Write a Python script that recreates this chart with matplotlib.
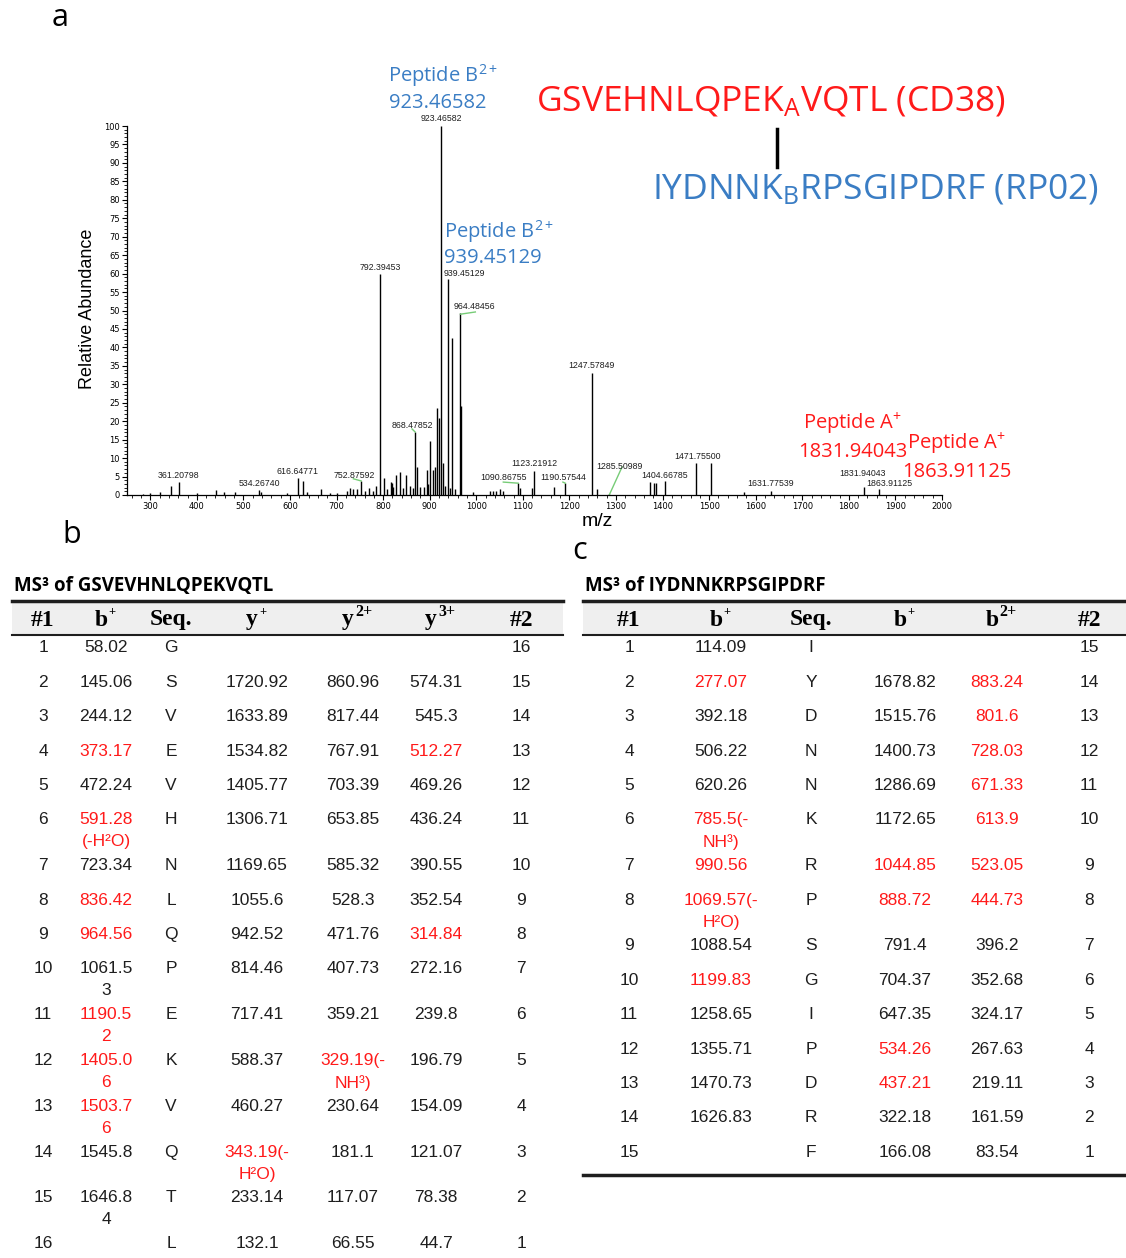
import matplotlib
matplotlib.use("Agg")
import matplotlib.pyplot as plt
from matplotlib.ticker import MultipleLocator
from matplotlib.patches import Rectangle

plt.rcParams['mathtext.fontset'] = 'custom'
plt.rcParams['mathtext.rm'] = 'Open Sans'
plt.rcParams['mathtext.it'] = 'Open Sans:italic'
plt.rcParams['mathtext.bf'] = 'Open Sans:bold'

###############################################################################
# spectrum data (m/z, relative abundance)

peak_mz = [285, 300, 321, 343.6, 361.2, 400, 441.7, 459, 482.6, 534.3, 538.6, 593,
           616.6, 626.9, 636, 666, 686, 700, 722, 729, 736, 743.7, 752.9, 760, 768.6,
           778, 785, 792.4, 800.8, 809, 816.6, 819.5, 822, 828, 836.7, 843, 850, 858,
           864, 868.5, 872, 879.6, 886.7, 893.9, 897, 901, 906.7, 911.7, 916, 920.4,
           923.5, 928, 933, 939.5, 944, 948, 955, 964.5, 967, 992, 1030, 1036, 1043,
           1050, 1058, 1089.3, 1093, 1119, 1124, 1166.5, 1191, 1247.6, 1258.8, 1285.5,
           1373, 1382, 1385, 1405, 1471.8, 1504, 1575, 1631.8, 1831.9, 1865]
peak_int = [0.3, 0.5, 0.8, 2.4, 3.5, 0.5, 1.4, 0.8, 0.8, 1.4, 0.8, 0.5,
            4.7, 3.8, 0.8, 1.7, 0.6, 0.5, 1.0, 1.8, 1.5, 1.6, 3.7, 1.0, 1.8,
            1.2, 2.4, 60, 4.6, 1.5, 3.5, 3.2, 2.2, 5.4, 6.2, 2.0, 5.4, 2.4,
            2.0, 17.2, 7.6, 2.2, 2.2, 6.8, 3.0, 14.5, 6.8, 7.6, 23.7, 21,
            100, 8.7, 2.5, 58.5, 2.0, 42.6, 1.5, 49.3, 24, 0.8, 1.0, 1.0, 1.2,
            1.5, 1.0, 3.2, 2.0, 2.0, 6.6, 2.3, 3.2, 33.1, 1.6, 0.4,
            3.5, 3.3, 3.3, 3.8, 8.8, 8.6, 0.8, 1.2, 2.1, 1.7]

# peak labels: text, x, y (text bottom)
label_text = ["361.20798", "534.26740", "616.64771", "752.87592", "792.39453",
              "868.47852", "923.46582", "939.45129", "964.48456", "1090.86755",
              "1123.21912", "1190.57544", "1247.57849", "1285.50989", "1404.66785",
              "1471.75500", "1631.77539", "1831.94043", "1863.91125"]
label_x = [360, 534, 616, 738, 794, 862, 925, 974, 996, 1058,
           1124, 1187, 1247, 1308, 1405, 1474, 1631, 1830, 1886]
label_y = [4.0, 1.8, 5.2, 4.2, 60.4, 17.7, 100.8, 58.8, 49.8, 3.6,
           7.3, 3.6, 33.9, 6.6, 4.1, 9.2, 1.9, 4.6, 1.8]

# green leader lines: (x0, y0) -> (x1, y1)
leader_x0 = [736, 862, 966, 1058, 1186, 1313]
leader_y0 = [4.4, 17.9, 49.0, 3.5, 3.5, 7.6]
leader_x1 = [752.9, 868.5, 998, 1090, 1191, 1285.5]
leader_y1 = [3.8, 17.1, 49.6, 3.2, 3.2, 0.0]

###############################################################################
# fragment tables

L_title = "MS³ of GSVEVHNLQPEKVQTL"
L_head = ["#1", "b", "Seq.", "y", "y", "y", "#2"]
L_sup = ["", "+", "", "+", "2+", "3+", ""]
L_n1 = [str(i) for i in range(1, 17)]
L_b = ["58.02", "145.06", "244.12", "373.17", "472.24", "591.28\n(-H²O)", "723.34",
       "836.42", "964.56", "1061.5\n3", "1190.5\n2", "1405.0\n6", "1503.7\n6",
       "1545.8", "1646.8\n4", ""]
L_seq = list("GSVEVHNLQPEKVQTL")
L_y1 = ["", "1720.92", "1633.89", "1534.82", "1405.77", "1306.71", "1169.65", "1055.6",
        "942.52", "814.46", "717.41", "588.37", "460.27", "343.19(-\nH²O)", "233.14",
        "132.1"]
L_y2 = ["", "860.96", "817.44", "767.91", "703.39", "653.85", "585.32", "528.3",
        "471.76", "407.73", "359.21", "329.19(-\nNH³)", "230.64", "181.1", "117.07",
        "66.55"]
L_y3 = ["", "574.31", "545.3", "512.27", "469.26", "436.24", "390.55", "352.54",
        "314.84", "272.16", "239.8", "196.79", "154.09", "121.07", "78.38", "44.7"]
L_n2 = [str(i) for i in range(16, 0, -1)]
# red (matched) cells, 1-based row numbers per column
L_red = [[], [4, 6, 8, 9, 11, 12, 13], [], [14], [12], [4, 9], []]

R_title = "MS³ of IYDNNKRPSGIPDRF"
R_head = ["#1", "b", "Seq.", "b", "b", "#2"]
R_sup = ["", "+", "", "+", "2+", ""]
R_n1 = [str(i) for i in range(1, 16)]
R_b1 = ["114.09", "277.07", "392.18", "506.22", "620.26", "785.5(-\nNH³)", "990.56",
        "1069.57(-\nH²O)", "1088.54", "1199.83", "1258.65", "1355.71", "1470.73",
        "1626.83", ""]
R_seq = list("IYDNNKRPSGIPDRF")
R_b2 = ["", "1678.82", "1515.76", "1400.73", "1286.69", "1172.65", "1044.85", "888.72",
        "791.4", "704.37", "647.35", "534.26", "437.21", "322.18", "166.08"]
R_b3 = ["", "883.24", "801.6", "728.03", "671.33", "613.9", "523.05", "444.73", "396.2",
        "352.68", "324.17", "267.63", "219.11", "161.59", "83.54"]
R_n2 = [str(i) for i in range(15, 0, -1)]
R_red = [[], [2, 6, 7, 8, 10], [], [7, 8, 12, 13], [2, 3, 4, 5, 6, 7, 8], []]

###############################################################################

RED = '#ff1a1a'
BLUE = '#3a7dc4'
INK = '#1e1e1e'

fig = plt.figure(figsize=(11.26, 12.58), dpi=100)
ov = fig.add_axes([0, 0, 1, 1])
ov.set_xlim(0, 1126)
ov.set_ylim(1258, 0)
ov.axis('off')

ax = fig.add_axes([127 / 1126, 1 - 495 / 1258, (942 - 127) / 1126, (495 - 126) / 1258])
ax.patch.set_alpha(0)
ax.vlines(peak_mz, 0, peak_int, color='black', lw=1.0)
ax.set_xlim(250, 2000)
ax.set_ylim(0, 100)
for s in ['top', 'right']:
    ax.spines[s].set_visible(False)
for s in ['left', 'bottom']:
    ax.spines[s].set_linewidth(0.9)
ax.set_xticks(range(300, 2001, 100))
ax.xaxis.set_minor_locator(MultipleLocator(20))
ax.set_yticks(range(0, 101, 5))
ax.yaxis.set_minor_locator(MultipleLocator(1))
ax.tick_params(which='major', length=3.5, width=0.8, labelsize=6, pad=1.5)
ax.tick_params(which='minor', length=2, width=0.6)

for t, x, y in zip(label_text, label_x, label_y):
    ax.text(x, y, t, fontsize=6.3, ha='center', va='bottom', color=INK,
            family='Liberation Sans', clip_on=False)
for x0, y0, x1, y1 in zip(leader_x0, leader_y0, leader_x1, leader_y1):
    ax.plot([x0, x1], [y0, y1], color='#77cc77', lw=1.0, clip_on=False)

ov.text(88, 309, "Relative Abundance", rotation=90, fontsize=13, ha='center',
        va='center', family='Liberation Sans')
ov.text(597, 522, "m/z", fontsize=14, ha='center', va='center', family='Liberation Sans')

# peptide annotations
pf = dict(family='Open Sans', fontsize=14.5, va='center')
ov.text(388, 76, r"Peptide B$^{\mathrm{2+}}$", color=BLUE, ha='left', **pf)
ov.text(389, 103, "923.46582", color=BLUE, ha='left', **pf)
ov.text(444, 232, r"Peptide B$^{\mathrm{2+}}$", color=BLUE, ha='left', **pf)
ov.text(444, 258, "939.45129", color=BLUE, ha='left', **pf)
ov.text(853, 424, r"Peptide A$^{\mathrm{+}}$", color=RED, ha='center', **pf)
ov.text(853, 452, "1831.94043", color=RED, ha='center', **pf)
ov.text(957, 444, r"Peptide A$^{\mathrm{+}}$", color=RED, ha='center', **pf)
ov.text(957, 472, "1863.91125", color=RED, ha='center', **pf)

ov.text(536, 102, r"GSVEHNLQPEK$_{\mathrm{A}}$VQTL (CD38)", color=RED, fontsize=25.5,
        family='Open Sans', ha='left', va='center')
ov.plot([777, 777], [129, 167], color='black', lw=2.5)
ov.text(652, 190, r"IYDNNK$_{\mathrm{B}}$RPSGIPDRF (RP02)", color=BLUE, fontsize=25.5,
        family='Open Sans', ha='left', va='center')

for ch, x, y in [("a", 60, 18), ("b", 72, 535), ("c", 580, 551)]:
    ov.text(x, y, ch, fontsize=22, family='Open Sans', ha='center', va='center')


def draw_table(x0, x1, title, head, sup, cols, xs, red, bottom_line):
    ov.text(x0 + 2, 586, title, fontsize=13.5, fontweight='bold', family='Open Sans',
            ha='left', va='center')
    ov.add_patch(Rectangle((x0, 602), x1 - x0, 33, color='#efefef', lw=0, zorder=0))
    ov.plot([x0, x1], [601, 601], color=INK, lw=2.5)
    ov.plot([x0, x1], [635, 635], color=INK, lw=1.5)
    for h, s, x in zip(head, sup, xs):
        if s:
            ov.text(x - 5, 620, h, fontsize=17, fontweight='bold',
                    family='Liberation Serif', ha='center', va='center')
            ov.text(x + 2, 612, s, fontsize=9 if s == "+" else 11.5, fontweight='bold',
                    family='Liberation Serif', ha='left', va='center')
        else:
            ov.text(x, 620, h, fontsize=17, fontweight='bold', family='Liberation Serif',
                    ha='center', va='center')
    y = 648
    for i in range(len(cols[0])):
        nl = 1
        for c, col in enumerate(cols):
            parts = col[i].split("\n")
            nl = max(nl, len(parts))
            color = RED if (i + 1) in red[c] else INK
            for k, p in enumerate(parts):
                ov.text(xs[c], y + 22 * k, p, fontsize=12.5, family='Liberation Sans',
                        color=color, ha='center', va='center')
        y += 34.4 if nl == 1 else 45.8
    if bottom_line:
        ov.plot([x0, x1], [1175, 1175], color=INK, lw=2.5)


draw_table(12, 563, L_title, L_head, L_sup, [L_n1, L_b, L_seq, L_y1, L_y2, L_y3, L_n2],
           [43, 106, 171, 257, 353, 436, 521], L_red, False)
draw_table(583, 1126, R_title, R_head, R_sup, [R_n1, R_b1, R_seq, R_b2, R_b3, R_n2],
           [629, 721, 811, 905, 997, 1089], R_red, True)

fig.savefig("out.png", dpi=100)
